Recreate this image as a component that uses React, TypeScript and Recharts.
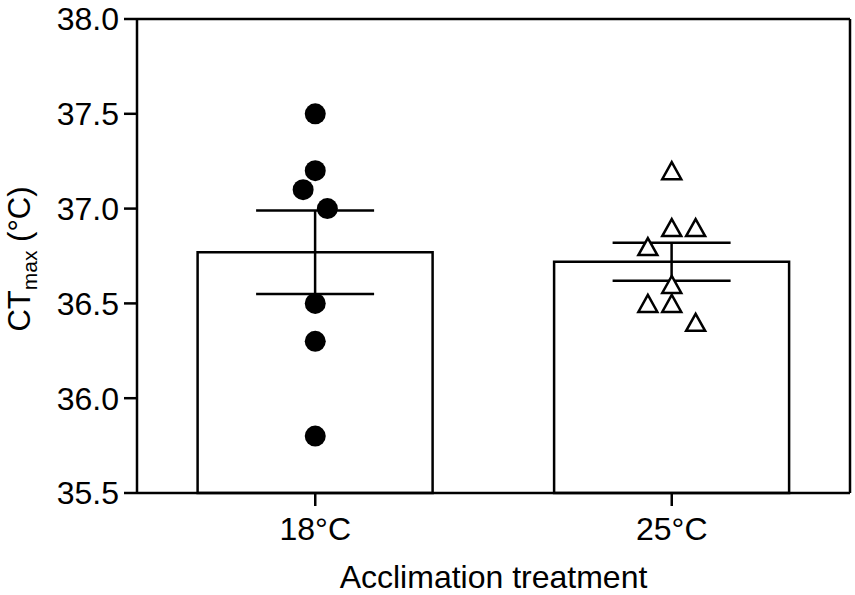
import React from 'react';
import {
  ComposedChart,
  Bar,
  Scatter,
  ErrorBar,
  XAxis,
  YAxis,
  ReferenceLine
} from 'recharts';

// values
const categories = ['18°C', '25°C'];
const means = [36.77, 36.72];
const sem = [0.22, 0.1];
const yTicks = [35.5, 36.0, 36.5, 37.0, 37.5, 38.0];

const values18 = [37.5, 37.2, 37.1, 37.0, 36.5, 36.3, 35.8];
const jitter18 = [0, 0, -0.034, 0.034, 0, 0, 0];
const values25 = [37.2, 36.9, 36.9, 36.8, 36.6, 36.5, 36.5, 36.4];
const jitter25 = [0, 0, 0.067, -0.067, 0, -0.067, 0, 0.067];

const font = '"Liberation Sans", Arial, sans-serif';

const barData = categories.map((name, i) => ({ name, mean: means[i], sem: sem[i] }));
const points18 = values18.map((y, i) => ({ x: 0 + jitter18[i], y }));
const points25 = values25.map((y, i) => ({ x: 1 + jitter25[i], y }));

const Dot = (props: any) => <circle cx={props.cx} cy={props.cy} r={10.5} fill="#000" />;

const Tri = (props: any) => {
  const { cx, cy } = props;
  return (
    <path
      d={`M${cx},${cy - 8.5} L${cx + 9.5},${cy + 8.5} L${cx - 9.5},${cy + 8.5} Z`}
      fill="#fff"
      stroke="#000"
      strokeWidth={2.5}
      strokeLinejoin="miter"
    />
  );
};

const YLabel = (props: any) => {
  const vb = props.viewBox || { y: 19, height: 474 };
  const cx = 30;
  const cy = vb.y + vb.height / 2 + 3;
  return (
    <text
      x={cx}
      y={cy}
      transform={`rotate(-90, ${cx}, ${cy})`}
      textAnchor="middle"
      fontFamily={font}
      fontSize={31}
      fill="#000"
    >
      CT
      <tspan fontSize={21} dy={7}>max</tspan>
      <tspan dy={-7}> (°C)</tspan>
    </text>
  );
};

const App: React.FC = () => {
  const axisLine = { stroke: '#000', strokeWidth: 2.5 };
  return (
    <div style={{ position: 'absolute', left: 0, top: 0, width: 855, height: 595, background: '#fff' }}>
      <ComposedChart
        width={855}
        height={595}
        data={barData}
        margin={{ top: 19, right: 5, bottom: 0, left: 0 }}
        barCategoryGap="17%"
      >
        <XAxis
          dataKey="name"
          height={102}
          axisLine={axisLine}
          tickLine={axisLine}
          tickSize={13}
          tickMargin={11}
          tick={{ fill: '#000', fontSize: 32, fontFamily: font }}
          label={{
            value: 'Acclimation treatment',
            position: 'insideBottom',
            offset: 7,
            fill: '#000',
            fontSize: 32,
            fontFamily: font
          }}
        />
        <XAxis xAxisId="num" type="number" dataKey="x" domain={[-0.5, 1.5]} hide />
        <YAxis
          width={137}
          domain={[35.5, 38]}
          ticks={yTicks}
          interval={0}
          tickFormatter={(v: number) => v.toFixed(1)}
          axisLine={axisLine}
          tickLine={axisLine}
          tickSize={13}
          tickMargin={5}
          tick={{ fill: '#000', fontSize: 32, fontFamily: font }}
          label={<YLabel />}
        />
        <ReferenceLine y={38} stroke="#000" strokeWidth={2.5} />
        <ReferenceLine x={1.5} xAxisId="num" stroke="#000" strokeWidth={2.5} />
        <Bar dataKey="mean" fill="#fff" stroke="#000" strokeWidth={2.5} isAnimationActive={false}>
          <ErrorBar dataKey="sem" width={59} stroke="#000" strokeWidth={2.5} />
        </Bar>
        <Scatter xAxisId="num" data={points18} dataKey="y" shape={Dot} isAnimationActive={false} />
        <Scatter xAxisId="num" data={points25} dataKey="y" shape={Tri} isAnimationActive={false} />
      </ComposedChart>
    </div>
  );
};

export default App;
